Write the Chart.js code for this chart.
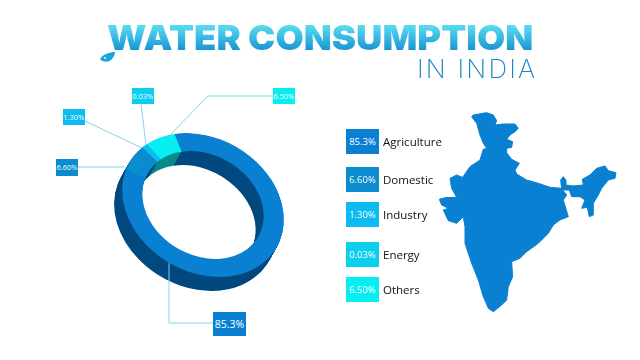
<!DOCTYPE html>
<html>
<head>
<meta charset="utf-8">
<script src="https://cdn.jsdelivr.net/npm/chart.js@4"></script>
<style>
    html, body { margin: 0; padding: 0; background: #fff; }
    #page { position: relative; width: 640px; height: 360px; overflow: hidden; font-family: "Open Sans", sans-serif; }
    canvas, svg { position: absolute; left: 0; top: 0; }
    .title {
        position: absolute; left: 107px; top: 18px; white-space: nowrap;
        font: 900 34.5px/40px Inter, sans-serif; transform-origin: 0 0; transform: scaleX(1.058);
        background: linear-gradient(#55d8f0 22%, #1490d0 85%);
        -webkit-background-clip: text; background-clip: text; color: transparent;
    }
    .subtitle { position: absolute; left: 417px; top: 53px; font: 200 26px/32px Inter, sans-serif; color: #1a86c0; letter-spacing: 2.2px; white-space: nowrap; }
    .box { position: absolute; color: #fff; text-align: center; white-space: nowrap; }
    .name { position: absolute; left: 383px; font-size: 11.5px; line-height: 16px; color: #111; white-space: nowrap; }
</style>
</head>
<body>
<div id="page">
    <canvas id="waterDonutChart" width="640" height="360"></canvas>
    <svg width="640" height="360" viewBox="0 0 640 360">
        <path fill="#0a80d3" stroke="#0a80d3" stroke-width="3" stroke-linejoin="round" transform="translate(330 100) scale(0.3333)" d="M430,45 L470,38 L490,45 L500,62 L495,75 L520,72 L555,72 L565,85 L555,95 L540,105 L530,118 L548,125 L545,142 L530,145 L530,158 L545,178 L568,190 L555,210 L560,222 L590,240 L625,250 L660,262 L695,265 L692,240 L700,230 L708,240 L708,255 L730,258 L760,255 L757,238 L780,225 L800,205 L825,198 L835,212 L858,218 L855,235 L835,240 L815,265 L805,285 L790,310 L790,345 L778,350 L772,322 L755,325 L765,300 L750,290 L725,290 L718,270 L698,270 L710,285 L700,300 L715,350 L690,360 L670,375 L655,400 L625,430 L590,455 L570,475 L545,485 L548,530 L535,560 L530,600 L515,615 L490,635 L475,625 L460,590 L445,540 L425,490 L405,430 L405,380 L400,350 L380,370 L355,362 L340,330 L355,325 L335,315 L328,298 L345,293 L380,292 L365,265 L360,235 L380,225 L398,232 L420,200 L450,180 L460,148 L470,145 L460,130 L450,105 L440,70 L425,50 Z"/>
        <path fill="#1ba6d8" d="M115,52 C110,52 103,54 100,59 C103,63 110,62 112,59 C114,57 115,54 115,52 Z"/>
        <circle cx="105" cy="58" r="1" fill="#d8f6fb"/>
    </svg>
    <div class="title">WATER CONSUMPTION</div>
    <div class="subtitle">IN INDIA</div>
</div>

<script>
const categories = ['Agriculture', 'Domestic', 'Industry', 'Energy', 'Others'];
const shares = [85.3, 6.6, 1.3, 0.03, 6.5];
const shareLabels = ['85.3%', '6.60%', '1.30%', '0.03%', '6.50%'];

const sliceColors = ['#0a80d3', '#0a8ccf', '#0cbcf0', '#0ccfee', '#07eef2'];
const wallColors = ['#02497f', '#02497f', '#0a7f8c', '#0a7f8c', '#0b8a8c'];

// ring placement on the page, the doughnut itself is always drawn with radius 100
const ringX = 203, ringY = 205, ringA = 85, ringB = 67, ringTilt = 30 * Math.PI / 180;
const wallX = -8, wallY = 14;

// callout boxes: left, top, width, height, font size, leader line
const callouts = [
    { box: [213, 312, 33, 24, 10.5], line: [[169, 263], [169, 323], [213, 323]] },
    { box: [56, 159, 22, 17, 7.5], line: [[78, 167], [125, 167]] },
    { box: [63, 109, 22, 16, 7.5], line: [[85, 121], [142, 148]] },
    { box: [132, 88, 22, 16, 7.5], line: [[141, 104], [146, 145]] },
    { box: [273, 88, 22, 16, 7.5], line: [[273, 96], [208, 96], [170, 135]] }
];
const legendTops = [129, 167, 202, 242, 277];

function ringTransform(ctx, chart, dx, dy) {
    const arc = chart.getDatasetMeta(0).data[0];
    ctx.translate(ringX + dx, ringY + dy);
    ctx.rotate(ringTilt);
    ctx.scale(ringA / 100, ringB / 100);
    ctx.translate(-arc.x, -arc.y);
}

const ringPlugin = {
    id: 'ring',
    beforeDatasetsDraw(chart) {
        const ctx = chart.ctx;
        const arcs = chart.getDatasetMeta(0).data;
        // side wall: the same arcs again, stepped down the extrusion
        for (let i = 20; i > 0; i--) {
            ctx.save();
            ringTransform(ctx, chart, wallX * i / 20, wallY * i / 20);
            arcs.forEach((arc, n) => {
                const own = arc.options;
                arc.options = Object.assign(Object.create(own), { backgroundColor: wallColors[n] });
                arc.draw(ctx);
                arc.options = own;
            });
            ctx.restore();
        }
        ctx.save();
        ringTransform(ctx, chart, 0, 0);
    },
    afterDatasetsDraw(chart) {
        chart.ctx.restore();
    },
    afterDraw(chart) {
        const ctx = chart.ctx;
        ctx.save();
        ctx.strokeStyle = '#7fd6e6';
        ctx.lineWidth = 1;
        callouts.forEach(c => {
            ctx.beginPath();
            c.line.forEach((p, i) => i ? ctx.lineTo(p[0], p[1]) : ctx.moveTo(p[0], p[1]));
            ctx.stroke();
        });
        ctx.restore();
    }
};

const data = {
    labels: categories,
    datasets: [{
        data: shares,
        backgroundColor: sliceColors,
        borderWidth: 0,
        clip: false
    }]
};

const config = {
    type: 'doughnut',
    data: data,
    options: {
        responsive: false,
        animation: false,
        cutout: '75%',
        rotation: 315,
        layout: { padding: 80 },
        plugins: { legend: { display: false }, tooltip: { enabled: false } }
    },
    plugins: [ringPlugin]
};

new Chart(document.getElementById('waterDonutChart'), config);

const page = document.getElementById('page');

function addBox(left, top, width, height, size, color, text) {
    const el = document.createElement('div');
    el.className = 'box';
    el.style.cssText = `left:${left}px;top:${top}px;width:${width}px;height:${height}px;line-height:${height}px;font-size:${size}px;background:${color}`;
    el.textContent = text;
    page.appendChild(el);
}

callouts.forEach((c, i) => addBox(c.box[0], c.box[1], c.box[2], c.box[3], c.box[4], sliceColors[i], shareLabels[i]));

categories.forEach((name, i) => {
    addBox(346, legendTops[i], 33, 25, 9.5, sliceColors[i], shareLabels[i]);
    const el = document.createElement('div');
    el.className = 'name';
    el.style.top = (legendTops[i] + 5) + 'px';
    el.textContent = name;
    page.appendChild(el);
});
</script>
</body>
</html>
